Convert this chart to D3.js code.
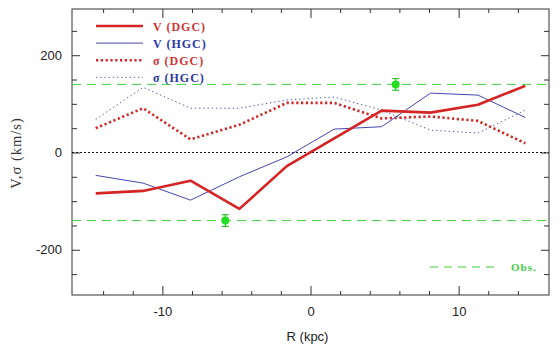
<!DOCTYPE html>
<html>
<head>
<meta charset="utf-8">
<script src="https://cdn.jsdelivr.net/npm/d3@7/dist/d3.min.js"></script>
<style>
  html, body { margin: 0; padding: 0; background: #fff; }
  svg { display: block; }
</style>
</head>
<body>
<svg id="chart" width="560" height="348"></svg>
<script>
// Galactocentric radius of each bin (kpc)
const R = [-14.5, -11.3, -8.1, -4.8, -1.6, 1.6, 4.8, 8.1, 11.3, 14.5];
// Rotation velocity and dispersion (km/s) for disk and halo globular clusters
const vDGC = [-84, -79, -58, -116, -28, 29, 86, 82, 98, 137];
const vHGC = [-47, -63, -98, -50, -9, 48, 53, 122, 118, 72];
const sDGC = [50, 91, 27, 57, 102, 102, 70, 74, 65, 19];
const sHGC = [68, 134, 91, 91, 108, 114, 87, 46, 40, 87];
// Observed values with error bars
const obsR = [-5.75, 5.75];
const obsV = [-140, 140];
const obsErr = [12, 12];
const obsLevels = [140, -140];
// Axis ticks
const xMajor = [-10, 0, 10];
const xMinor = [-14, -12, -8, -6, -4, -2, 2, 4, 6, 8, 12, 14];
const yMajor = [-200, 0, 200];
const yMinor = [-250, -150, -100, -50, 50, 100, 150, 250];

const legendItems = [
  { label: "V (DGC)", key: "vDGC" },
  { label: "V (HGC)", key: "vHGC" },
  { label: "σ (DGC)", key: "sDGC" },
  { label: "σ (HGC)", key: "sHGC" }
];

const series = {
  vDGC: { values: vDGC, color: "#d42424", text: "#d03434", width: 2.6, dash: null },
  vHGC: { values: vHGC, color: "#4646b0", text: "#2a36a6", width: 1, dash: null },
  sDGC: { values: sDGC, color: "#d42424", text: "#d03434", width: 2.6, dash: "2.2,2.6" },
  sHGC: { values: sHGC, color: "#5a5ab4", text: "#2a36a6", width: 1, dash: "1.4,2.8" }
};

const pL = 72, pR = 549, pT = 9, pB = 295;
const svg = d3.select("#chart");

const x = d3.scaleLinear().domain([-16.1, 16.1]).range([pL, pR]);
const y = d3.scaleLinear().domain([-293, 295]).range([pB, pT]);

const green = "#3fcf3f";
const axisColor = "#333";
const fmt = d => String(d); // plain hyphen-minus labels

// Frame
svg.append("rect")
  .attr("x", pL).attr("y", pT)
  .attr("width", pR - pL).attr("height", pB - pT)
  .attr("fill", "none").attr("stroke", axisColor).attr("stroke-width", 1);

function styleAxis(g) {
  g.select(".domain").remove();
  g.selectAll(".tick line").attr("stroke", axisColor);
}

// Inward ticks on all four sides
svg.append("g").attr("transform", `translate(0,${pB})`).call(d3.axisBottom(x).tickValues(xMajor).tickSize(-9).tickFormat("")).call(styleAxis);
svg.append("g").attr("transform", `translate(0,${pB})`).call(d3.axisBottom(x).tickValues(xMinor).tickSize(-4).tickFormat("")).call(styleAxis);
svg.append("g").attr("transform", `translate(0,${pT})`).call(d3.axisTop(x).tickValues(xMajor).tickSize(-9).tickFormat("")).call(styleAxis);
svg.append("g").attr("transform", `translate(0,${pT})`).call(d3.axisTop(x).tickValues(xMinor).tickSize(-4).tickFormat("")).call(styleAxis);
svg.append("g").attr("transform", `translate(${pL},0)`).call(d3.axisLeft(y).tickValues(yMajor).tickSize(-8).tickFormat("")).call(styleAxis);
svg.append("g").attr("transform", `translate(${pL},0)`).call(d3.axisLeft(y).tickValues(yMinor).tickSize(-5).tickFormat("")).call(styleAxis);
svg.append("g").attr("transform", `translate(${pR},0)`).call(d3.axisRight(y).tickValues(yMajor).tickSize(-8).tickFormat("")).call(styleAxis);
svg.append("g").attr("transform", `translate(${pR},0)`).call(d3.axisRight(y).tickValues(yMinor).tickSize(-5).tickFormat("")).call(styleAxis);

// Tick labels
const xl = svg.append("g").attr("transform", `translate(0,${pB})`)
  .call(d3.axisBottom(x).tickValues(xMajor).tickSize(0).tickPadding(12).tickFormat(fmt));
xl.select(".domain").remove();
xl.selectAll("text").attr("font-family", "Liberation Sans, Arial, sans-serif").attr("font-size", 13).attr("fill", "#222");

const yl = svg.append("g").attr("transform", `translate(${pL},0)`)
  .call(d3.axisLeft(y).tickValues(yMajor).tickSize(0).tickPadding(10).tickFormat(fmt));
yl.select(".domain").remove();
yl.selectAll("text").attr("font-family", "Liberation Sans, Arial, sans-serif").attr("font-size", 13).attr("fill", "#222");

// Axis titles
svg.append("text")
  .attr("x", (pL + pR) / 2 - 3).attr("y", 341)
  .attr("text-anchor", "middle")
  .attr("font-family", "Liberation Sans, Arial, sans-serif").attr("font-size", 13).attr("fill", "#222")
  .text("R (kpc)");
svg.append("text")
  .attr("transform", `translate(21,${(pT + pB) / 2 + 1}) rotate(-90)`)
  .attr("text-anchor", "middle")
  .attr("font-family", "Liberation Serif, Times New Roman, serif").attr("font-size", 14.5)
  .attr("letter-spacing", 1).attr("fill", "#333")
  .text("V,σ (km/s)");

// Zero line
svg.append("line")
  .attr("x1", pL).attr("x2", pR).attr("y1", y(0)).attr("y2", y(0))
  .attr("stroke", "#111").attr("stroke-width", 1).attr("stroke-dasharray", "2,2");

// Observed levels
svg.selectAll("line.obs").data(obsLevels).join("line")
  .attr("class", "obs")
  .attr("x1", pL).attr("x2", pR)
  .attr("y1", d => y(d)).attr("y2", d => y(d))
  .attr("stroke", green).attr("stroke-width", 1).attr("stroke-dasharray", "9,6");

// Series lines
const line = d3.line().x((d, i) => x(R[i])).y(d => y(d));
["sHGC", "sDGC", "vHGC", "vDGC"].forEach(k => {
  const s = series[k];
  svg.append("path")
    .attr("d", line(s.values))
    .attr("fill", "none")
    .attr("stroke", s.color)
    .attr("stroke-width", s.width)
    .attr("stroke-linejoin", "round")
    .attr("stroke-dasharray", s.dash);
});

// Observed points with error bars
const obs = obsR.map((r, i) => ({ r, v: obsV[i], e: obsErr[i] }));
const og = svg.selectAll("g.pt").data(obs).join("g").attr("class", "pt");
og.append("line")
  .attr("x1", d => x(d.r)).attr("x2", d => x(d.r))
  .attr("y1", d => y(d.v + d.e)).attr("y2", d => y(d.v - d.e))
  .attr("stroke", "#2bbf2b").attr("stroke-width", 1.2);
og.selectAll("line.cap").data(d => [d.v + d.e, d.v - d.e].map(v => ({ r: d.r, v }))).join("line")
  .attr("class", "cap")
  .attr("x1", d => x(d.r) - 3.5).attr("x2", d => x(d.r) + 3.5)
  .attr("y1", d => y(d.v)).attr("y2", d => y(d.v))
  .attr("stroke", "#2bbf2b").attr("stroke-width", 1.2);
og.append("circle")
  .attr("cx", d => x(d.r)).attr("cy", d => y(d.v)).attr("r", 4)
  .attr("fill", "#22dd22");

// Legend
const legFont = "Liberation Serif, Times New Roman, serif";
const lg = svg.append("g");
legendItems.forEach((it, i) => {
  const s = series[it.key];
  const yy = 26 + i * 17.1;
  lg.append("line")
    .attr("x1", 96).attr("x2", 143).attr("y1", yy).attr("y2", yy)
    .attr("stroke", s.color).attr("stroke-width", s.width)
    .attr("stroke-dasharray", s.dash);
  lg.append("text")
    .attr("x", 153).attr("y", yy + 4.5)
    .attr("font-family", legFont).attr("font-weight", "bold").attr("font-size", 12)
    .attr("letter-spacing", 1)
    .attr("fill", s.text)
    .text(it.label);
});
lg.append("line")
  .attr("x1", 430).attr("x2", 500).attr("y1", 267).attr("y2", 267)
  .attr("stroke", green).attr("stroke-width", 1).attr("stroke-dasharray", "8,6");
lg.append("text")
  .attr("x", 511).attr("y", 271)
  .attr("font-family", legFont).attr("font-weight", "bold").attr("font-size", 11)
  .attr("letter-spacing", 1)
  .attr("fill", green)
  .text("Obs.");
</script>
</body>
</html>
